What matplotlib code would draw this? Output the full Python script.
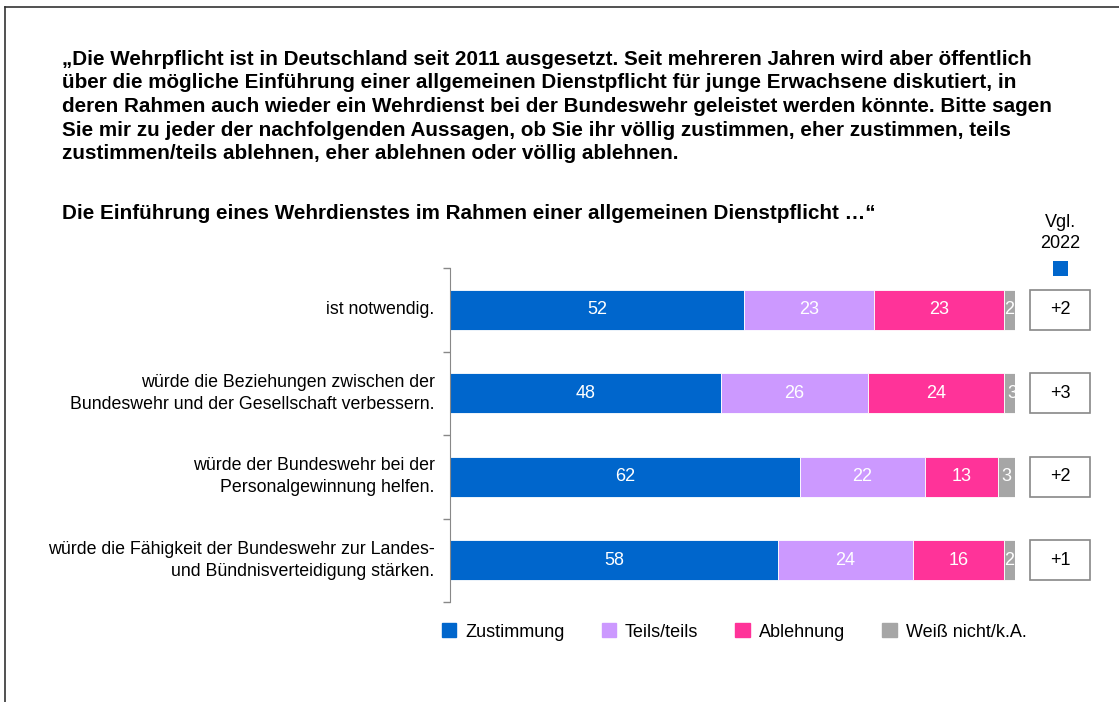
import matplotlib.pyplot as plt
from matplotlib.patches import Rectangle
from matplotlib.lines import Line2D

plt.rcParams['font.family'] = ['Liberation Sans', 'DejaVu Sans']

# Data
items = ["ist notwendig.",
         "würde die Beziehungen zwischen der\nBundeswehr und der Gesellschaft verbessern.",
         "würde der Bundeswehr bei der\nPersonalgewinnung helfen.",
         "würde die Fähigkeit der Bundeswehr zur Landes-\nund Bündnisverteidigung stärken."]
zustimmung = [52, 48, 62, 58]
teils = [23, 26, 22, 24]
ablehnung = [23, 24, 13, 16]
weiss_nicht = [2, 3, 3, 2]
vgl_2022 = ["+2", "+3", "+2", "+1"]

series = [("Zustimmung", zustimmung, "#0066CC"),
          ("Teils/teils", teils, "#CC99FF"),
          ("Ablehnung", ablehnung, "#FF3399"),
          ("Weiß nicht/k.A.", weiss_nicht, "#A6A6A6")]

title = ("„Die Wehrpflicht ist in Deutschland seit 2011 ausgesetzt. Seit mehreren Jahren wird aber öffentlich\n"
         "über die mögliche Einführung einer allgemeinen Dienstpflicht für junge Erwachsene diskutiert, in\n"
         "deren Rahmen auch wieder ein Wehrdienst bei der Bundeswehr geleistet werden könnte. Bitte sagen\n"
         "Sie mir zu jeder der nachfolgenden Aussagen, ob Sie ihr völlig zustimmen, eher zustimmen, teils\n"
         "zustimmen/teils ablehnen, eher ablehnen oder völlig ablehnen.")
subtitle = "Die Einführung eines Wehrdienstes im Rahmen einer allgemeinen Dienstpflicht …“"

W, H = 1119, 702
fig = plt.figure(figsize=(W / 100, H / 100), dpi=100)
ax = fig.add_axes([450 / W, 1 - 602 / H, 565 / W, 334 / H])

ypos = list(range(len(items)))
bh = 0.48
left = [0] * len(items)
for name, vals, col in series:
    ax.barh(ypos, vals, left=left, height=bh, color=col, edgecolor="white", linewidth=0.6, label=name)
    for i, v in enumerate(vals):
        ax.text(left[i] + v / 2, ypos[i], str(v), ha="center", va="center",
                color="white", fontsize=13)
    left = [l + v for l, v in zip(left, vals)]

ax.set_xlim(0, 100)
ax.set_ylim(len(items) - 0.5, -0.5)
ax.set_xticks([])
ax.set_yticks(ypos)
ax.set_yticklabels(items, fontsize=12.8, ha="right", multialignment="right", linespacing=1.35,
                   va="center")
ax.set_yticks([y - 0.5 for y in range(len(items) + 1)], minor=True)
ax.tick_params(axis="y", which="major", length=0, pad=11)
ax.tick_params(axis="y", which="minor", length=5, color="#888888", width=1)
for s in ["top", "right", "bottom"]:
    ax.spines[s].set_visible(False)
ax.spines["left"].set_color("#888888")

# Vgl. 2022 boxes
for i, t in enumerate(vgl_2022):
    ax.add_patch(Rectangle((102.7, ypos[i] - bh / 2), 10.6, bh, facecolor="white",
                           edgecolor="#888888", linewidth=1.2, clip_on=False))
    ax.text(108, ypos[i], t, ha="center", va="center", fontsize=13, clip_on=False)

fig.text(1060 / W, 1 - 233 / H, "Vgl.\n2022", ha="center", va="center", fontsize=13,
         linespacing=1.25)
fig.patches.append(Rectangle((1053 / W, 1 - 276 / H), 15 / W, 15 / H, facecolor="#0066CC",
                             transform=fig.transFigure))

fig.text(62 / W, 1 - 50 / H, title, ha="left", va="top", fontsize=14.9, fontweight="bold",
         linespacing=1.3)
fig.text(62 / W, 1 - 214 / H, subtitle, ha="left", va="center", fontsize=14.9, fontweight="bold")

# Legend
fig.legend(handles=[Rectangle((0, 0), 1, 1, color=c) for _, _, c in series],
           labels=[n for n, _, _ in series], loc="center", bbox_to_anchor=(734 / W, 1 - 632 / H),
           ncol=4, frameon=False, fontsize=13, handlelength=0.8, handleheight=0.8,
           columnspacing=2.05, handletextpad=0.5)

# frame lines
fig.add_artist(Line2D([5 / W, 1], [1 - 7 / H, 1 - 7 / H], color="#333333", linewidth=1.2,
                      transform=fig.transFigure))
fig.add_artist(Line2D([5 / W, 5 / W], [1 - 7 / H, 0], color="#333333", linewidth=1.2,
                      transform=fig.transFigure))

fig.savefig("out.png", dpi=100)
